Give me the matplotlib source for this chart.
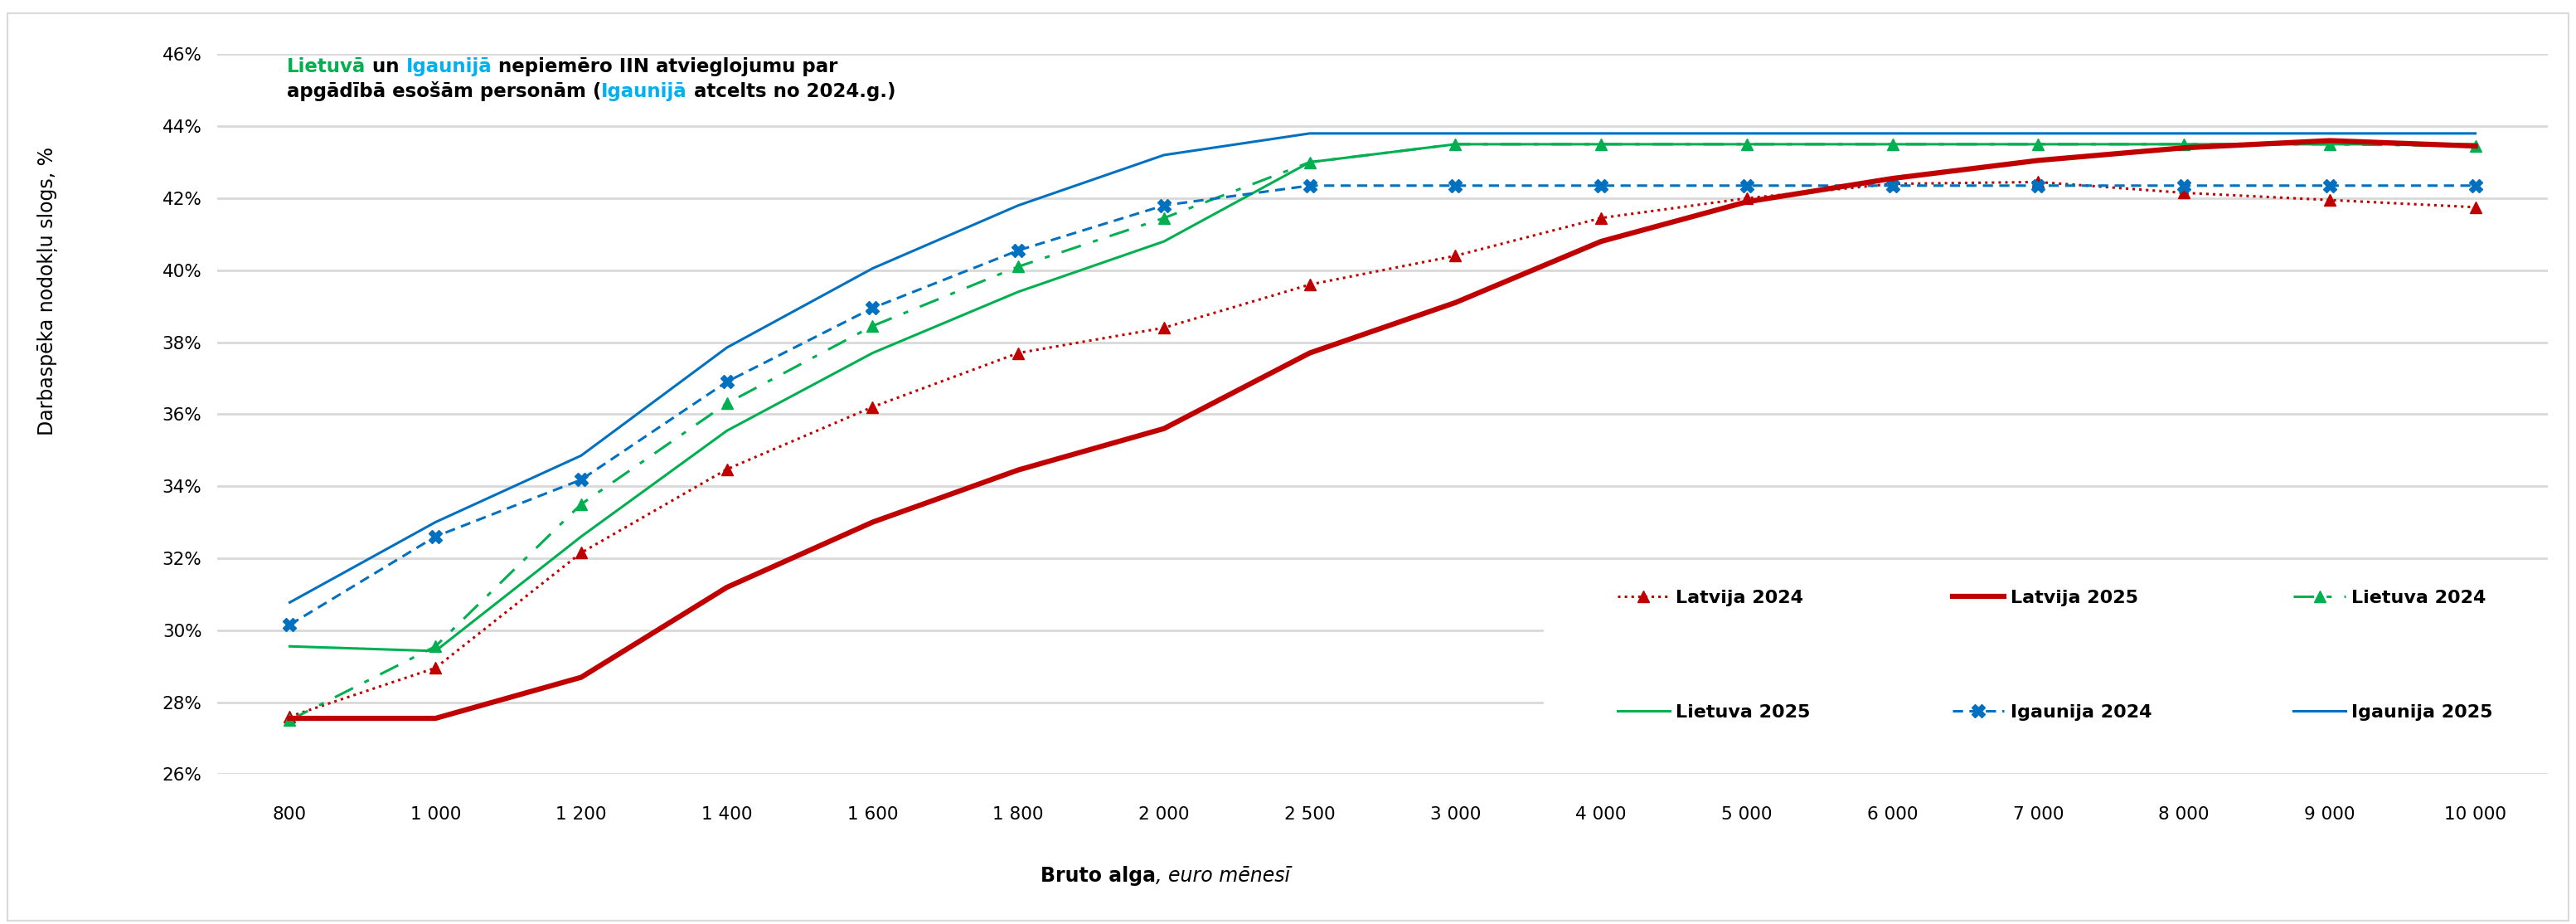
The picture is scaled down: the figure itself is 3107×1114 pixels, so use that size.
"""
Darbaspēka nodokļu slogs Baltijas valstīs (2024 / 2025).
"""

import matplotlib
import matplotlib.pyplot as plt
from matplotlib.patches import Rectangle
from matplotlib.ticker import FuncFormatter

matplotlib.use('Agg')

# Bruto alga, euro mēnesī (kategoriju ass)
wages = ['800', '1 000', '1 200', '1 400', '1 600', '1 800', '2 000', '2 500',
         '3 000', '4 000', '5 000', '6 000', '7 000', '8 000', '9 000', '10 000']

# Nodokļu slogs, %
latvija_2024 = [27.6, 28.95, 32.15, 34.47, 36.2, 37.7, 38.4, 39.6,
                40.4, 41.45, 42.0, 42.4, 42.45, 42.15, 41.95, 41.75]
latvija_2025 = [27.55, 27.55, 28.69, 31.19, 33.0, 34.45, 35.6, 37.7,
                39.1, 40.8, 41.9, 42.55, 43.05, 43.4, 43.6, 43.45]
lietuva_2024 = [27.5, 29.55, 33.5, 36.3, 38.45, 40.1, 41.45, 43.0,
                43.5, 43.5, 43.5, 43.5, 43.5, 43.5, 43.5, 43.45]
lietuva_2025 = [29.55, 29.42, 32.6, 35.54, 37.7, 39.4, 40.8, 43.0,
                43.5, 43.5, 43.5, 43.5, 43.5, 43.5, 43.5, 43.5]
igaunija_2024 = [30.15, 32.6, 34.18, 36.9, 38.95, 40.55, 41.8, 42.35,
                 42.35, 42.35, 42.35, 42.35, 42.35, 42.35, 42.35, 42.35]
igaunija_2025 = [30.77, 33.0, 34.85, 37.85, 40.05, 41.8, 43.2, 43.8,
                 43.8, 43.8, 43.8, 43.8, 43.8, 43.8, 43.8, 43.8]

RED = '#C00000'
GREEN = '#00B050'
BLUE = '#0070C0'
LIGHT_BLUE = '#00B0F0'
GRID = '#D9D9D9'

plt.rcParams['font.family'] = 'DejaVu Sans'

fig = plt.figure(figsize=(31.07, 11.14), dpi=100)
ax = fig.add_axes([0.0842, 0.1622, 0.905, 0.7791])

x = list(range(len(wages)))

h_lat24, = ax.plot(x, latvija_2024, color=RED, linestyle=':', linewidth=2.2,
                   marker='^', markersize=10, label='Latvija 2024', zorder=3)
h_lat25, = ax.plot(x, latvija_2025, color=RED, linestyle='-', linewidth=4.5,
                   label='Latvija 2025', zorder=4)
h_lie24, = ax.plot(x, lietuva_2024, color=GREEN, linestyle='-.', linewidth=2.2,
                   marker='^', markersize=10, label='Lietuva 2024', zorder=3,
                   dashes=(8, 5, 2, 5))
h_lie25, = ax.plot(x, lietuva_2025, color=GREEN, linestyle='-', linewidth=2.2,
                   label='Lietuva 2025', zorder=3)
h_ig24, = ax.plot(x, igaunija_2024, color=BLUE, linestyle='--', linewidth=2.2,
                  marker='X', markersize=11, label='Igaunija 2024', zorder=3,
                  dashes=(4, 2.5))
h_ig25, = ax.plot(x, igaunija_2025, color=BLUE, linestyle='-', linewidth=2.2,
                  label='Igaunija 2025', zorder=3)

# Axes
ax.set_xlim(-0.5, len(wages) - 0.5)
ax.set_ylim(26, 46)
ax.set_xticks(x)
ax.set_xticklabels(wages, fontsize=15.5)
ax.set_yticks(range(26, 47, 2))
ax.yaxis.set_major_formatter(FuncFormatter(lambda v, _: f'{v:.0f}%'))
ax.tick_params(axis='y', labelsize=15.5, length=0, pad=13)
ax.tick_params(axis='x', length=0, pad=28)
for spine in ax.spines.values():
    spine.set_visible(False)
ax.set_axisbelow(True)
ax.grid(axis='y', color=GRID, linewidth=2)

# White box behind the legend hides the lower gridlines
ax.add_patch(Rectangle((0.569, 0.02), 0.44, 0.27, transform=ax.transAxes,
                       facecolor='white', edgecolor='none', zorder=1,
                       clip_on=False))

# Legend: row-major order like the original
handles = [h_lat24, h_lie25, h_lat25, h_ig24, h_lie24, h_ig25]
ax.legend(handles=handles, labels=[h.get_label() for h in handles],
          ncol=3, loc='center left', bbox_to_anchor=(0.597, 0.165),
          frameon=False, prop={'size': 16, 'weight': 'bold'},
          borderpad=0, handlelength=2.8, handletextpad=0.35,
          columnspacing=7.7, labelspacing=5.3)

# Multi-coloured heading inside the plot
parts_line1 = [('Lietuvā', GREEN), (' un ', 'black'), ('Igaunijā', LIGHT_BLUE),
               (' nepiemēro IIN atvieglojumu par', 'black')]
parts_line2 = [('apgādībā esošām personām (', 'black'), ('Igaunijā', LIGHT_BLUE),
               (' atcelts no 2024.g.)', 'black')]


def draw_heading_line(parts, y):
    prev = ax.text(0.030, y, parts[0][0], transform=ax.transAxes,
                   fontsize=16.5, weight='bold', color=parts[0][1],
                   va='baseline', ha='left')
    for txt, col in parts[1:]:
        prev = ax.annotate(txt, xy=(1, 0), xycoords=prev, va='bottom',
                           ha='left', fontsize=16.5, weight='bold', color=col)


draw_heading_line(parts_line1, 0.9747)
draw_heading_line(parts_line2, 0.940)

# Axis labels
fig.text(0.0185, 0.685, 'Darbaspēka nodokļu slogs, %', rotation=90,
         fontsize=17, va='center', ha='center')
xl = fig.text(0.404, 0.052, 'Bruto alga', fontsize=17, weight='bold',
              va='center', ha='left')
ax.annotate(', euro mēnesī', xy=(1, 0), xycoords=xl, va='bottom', ha='left',
            fontsize=17, style='italic')

# Light chart-area border
fig.add_artist(Rectangle((0.003, 0.004), 0.994, 0.982, transform=fig.transFigure,
                         facecolor='none', edgecolor=GRID, linewidth=1.5))

plt.savefig('out.png', dpi=100)
plt.close()
